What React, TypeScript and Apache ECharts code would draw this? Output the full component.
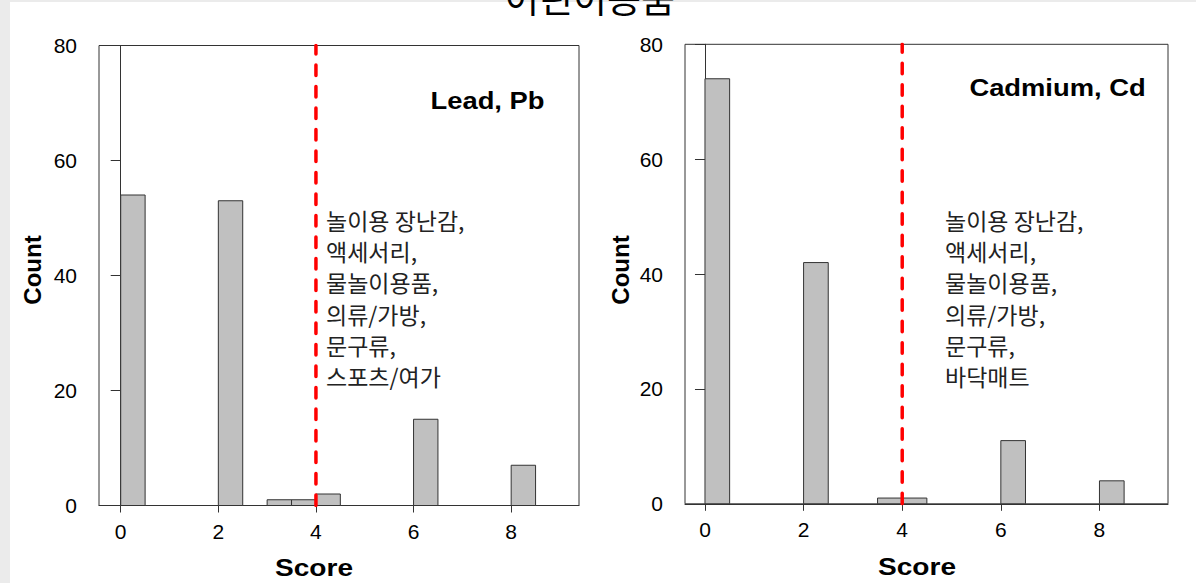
import React, { useEffect, useRef } from "react";
import * as echarts from "echarts";

// ---- data ----
const BIN_WIDTH = 0.5;
const leadBinStarts = [0, 2, 3, 3.5, 4, 6, 8];
const leadCounts = [54, 53, 1, 1, 2, 15, 7];
const cdBinStarts = [0, 2, 3.5, 4, 6, 8];
const cdCounts = [74, 42, 1, 1, 11, 4];
const xTicks = [0, 2, 4, 6, 8];
const threshold = 4;
const yMax = 80;
const title = "어린이용품";
const leadLabel = "Lead, Pb";
const cdLabel = "Cadmium, Cd";
const leadNote = ["놀이용 장난감,", "액세서리,", "물놀이용품,", "의류/가방,", "문구류,", "스포츠/여가"];
const cdNote = ["놀이용 장난감,", "액세서리,", "물놀이용품,", "의류/가방,", "문구류,", "바닥매트"];
const xName = "Score";
const yName = "Count";

const SANS = "'Liberation Sans', Arial, sans-serif";
const KR = "'Noto Sans CJK KR', sans-serif";
const AX = "#333";

function makeBars(starts: number[], counts: number[], idx: number) {
  return {
    type: "custom",
    xAxisIndex: idx,
    yAxisIndex: idx,
    data: starts.map((s, i) => [s, counts[i]]),
    z: 3,
    renderItem: (params: any, api: any) => {
      const s = api.value(0);
      const c = api.value(1);
      const p0 = api.coord([s, c]);
      const p1 = api.coord([s + BIN_WIDTH, 0]);
      return {
        type: "rect",
        shape: { x: p0[0], y: p0[1], width: p1[0] - p0[0], height: p1[1] - p0[1] },
        style: { fill: "#c0c0c0", stroke: "#333", lineWidth: 1 },
      };
    },
  };
}

function makeThreshold(idx: number) {
  return {
    type: "line",
    xAxisIndex: idx,
    yAxisIndex: idx,
    data: [[threshold, 0], [threshold, yMax]],
    symbol: "none",
    z: 5,
    lineStyle: { color: "#ff0000", width: 3.5, type: [10.5, 11], cap: "round" },
  };
}

function xAxis(idx: number, min: number, max: number) {
  return {
    type: "value",
    gridIndex: idx,
    min,
    max,
    axisLine: { show: true, lineStyle: { color: AX, width: 1 } },
    axisTick: { show: true, length: 7, lineStyle: { color: AX }, customValues: xTicks },
    axisLabel: { customValues: xTicks, color: "#000", fontSize: 21, fontFamily: SANS, margin: 15 },
    splitLine: { show: false },
  };
}

function yAxis(idx: number) {
  return {
    type: "value",
    gridIndex: idx,
    min: 0,
    max: yMax,
    interval: 20,
    axisLine: { show: true, lineStyle: { color: AX, width: 1 } },
    axisTick: { show: true, length: 10, lineStyle: { color: AX } },
    axisLabel: { color: "#000", fontSize: 21, fontFamily: SANS, margin: 22 },
    splitLine: { show: false },
  };
}

export default function App() {
  const ref = useRef<HTMLDivElement>(null);
  useEffect(() => {
    if (!ref.current) return;
    const chart = echarts.init(ref.current, undefined, { renderer: "svg" });
    const boldText = (text: string, x: number, y: number, scaleX: number, rotation = 0) => ({
      type: "text",
      x,
      y,
      rotation,
      scaleX,
      style: {
        text,
        fill: "#000",
        font: `bold 24px ${SANS}`,
        align: "center",
        verticalAlign: "middle",
      },
    });
    const note = (lines: string[], x: number, y: number) =>
      lines.map((line, i) => ({
        type: "text",
        x,
        y: y + i * 31.2,
        style: {
          text: line,
          fill: "#222",
          font: `23px ${KR}`,
          align: "left",
          verticalAlign: "middle",
        },
      }));
    chart.setOption({
      animation: false,
      grid: [
        { left: 99, top: 45.5, width: 480, height: 460, show: true, borderColor: AX, borderWidth: 1, backgroundColor: "transparent" },
        { left: 685, top: 44.3, width: 483, height: 459.5, show: true, borderColor: AX, borderWidth: 1, backgroundColor: "transparent" },
      ],
      xAxis: [xAxis(0, -0.445, 9.39), xAxis(1, -0.405, 9.39)],
      yAxis: [yAxis(0), yAxis(1)],
      series: [
        makeBars(leadBinStarts, leadCounts, 0),
        makeThreshold(0),
        makeBars(cdBinStarts, cdCounts, 1),
        makeThreshold(1),
      ],
      graphic: [
        {
          type: "text",
          x: 590,
          y: -3,
          style: { text: title, fill: "#000", font: `37px ${KR}`, align: "center", verticalAlign: "middle" },
        },
        boldText(leadLabel, 487.5, 100.5, 1.14),
        boldText(cdLabel, 1057.5, 87.5, 1.14),
        boldText(xName, 314, 568, 1.17),
        boldText(xName, 917, 566.5, 1.17),
        boldText(yName, 32, 270, 1, Math.PI / 2),
        boldText(yName, 620, 270, 1, Math.PI / 2),
        ...note(leadNote, 326, 220),
        ...note(cdNote, 945, 220),
      ],
    });
    return () => chart.dispose();
  }, []);
  return (
    <div style={{ position: "fixed", left: 0, top: 0, width: 1196, height: 583, background: "#ebebeb" }}>
      <div style={{ position: "absolute", left: 10, top: 2, right: 0, bottom: 0, background: "#fff" }} />
      <div ref={ref} style={{ position: "absolute", left: 0, top: 0, width: 1196, height: 583 }} />
    </div>
  );
}
